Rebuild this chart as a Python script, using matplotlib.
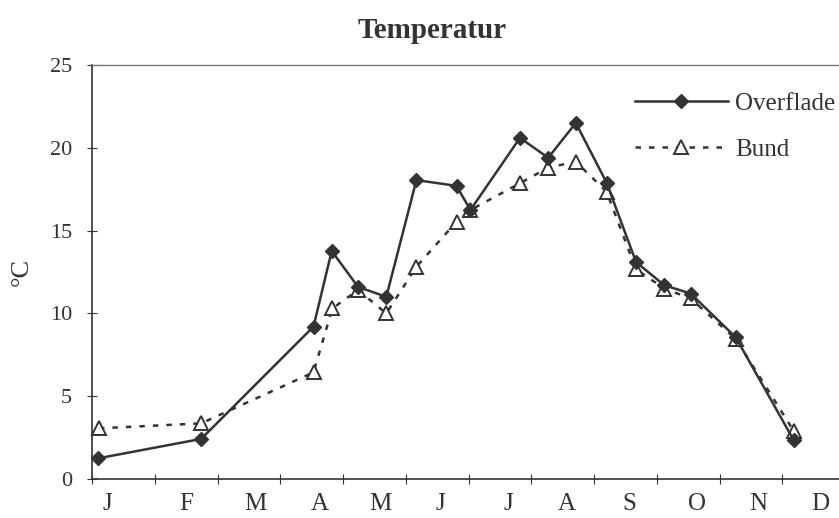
import numpy as np
import matplotlib.pyplot as plt

# x in months (0 = start of January)
x_over = [0.10, 1.74, 3.53, 3.82, 4.24, 4.69, 5.17, 5.81, 6.03, 6.82, 7.27, 7.71,
          8.20, 8.67, 9.12, 9.54, 10.26, 11.18]
overflade = [1.25, 2.42, 9.2, 13.77, 11.6, 11.0, 18.05, 17.7, 16.24, 20.6, 19.4, 21.5,
             17.9, 13.1, 11.7, 11.2, 8.55, 2.36]
x_bund = [0.11, 1.74, 3.53, 3.83, 4.24, 4.69, 5.17, 5.81, 6.03, 6.82, 7.27, 7.71,
          8.20, 8.67, 9.12, 9.54, 10.26, 11.18]
bund = [3.06, 3.36, 6.44, 10.3, 11.41, 10.0, 12.82, 15.54, 16.24, 17.86, 18.8, 19.16,
        17.35, 12.66, 11.5, 10.9, 8.45, 2.92]

months = ['J', 'F', 'M', 'A', 'M', 'J', 'J', 'A', 'S', 'O', 'N', 'D']
month_pos = [0.25, 1.5, 2.61, 3.63, 4.59, 5.55, 6.63, 7.57, 8.56, 9.64, 10.61, 11.6]

plt.rcParams['font.family'] = ['Liberation Serif', 'DejaVu Serif']
ink = '#333333'

fig = plt.figure(figsize=(8.39, 5.18), dpi=100)
ax = fig.add_axes([92 / 839, 1 - 479 / 518, 753 / 839, 414 / 518])

ax.plot(x_over, overflade, color=ink, lw=1.8, marker='D', ms=7.5,
        mfc=ink, mec=ink, label='Overflade', clip_on=False, zorder=3)
ax.plot(x_bund, bund, color=ink, lw=1.8, linestyle=(0, (2.2, 3.2)), marker='^', ms=10,
        mfc='white', mec=ink, mew=1.4, label='Bund', clip_on=False, zorder=2)

ax.set_xlim(0, 12)
ax.set_ylim(0, 25)
ax.set_yticks(np.arange(0, 26, 5))
ax.set_xticks(np.arange(0, 13, 1))
ax.set_xticklabels([])
ax.set_xticks(month_pos, minor=True)
ax.set_xticklabels(months, minor=True)
ax.tick_params(axis='x', which='major', direction='inout', length=7, width=0.8, colors=ink)
ax.tick_params(axis='x', which='minor', length=0, pad=10, labelsize=18, labelcolor=ink)
ax.tick_params(axis='y', direction='inout', length=7, width=0.8, pad=11,
               labelsize=16, colors=ink)

for s in ['left', 'bottom']:
    ax.spines[s].set_color(ink)
    ax.spines[s].set_linewidth(1.2)
ax.spines['top'].set_color('#777777')
ax.spines['top'].set_linewidth(1.0)
ax.spines['right'].set_visible(False)

ax.set_ylabel('°C', fontsize=19, color=ink, labelpad=12)
fig.text(0.515, 0.942, 'Temperatur', ha='center', va='center', fontsize=21,
         fontweight='bold', color=ink)

leg = ax.legend(loc='upper left', bbox_to_anchor=(625 / 839, 1 - 82 / 518),
                bbox_transform=fig.transFigure, frameon=False, fontsize=18,
                numpoints=1, handlelength=3.7, handletextpad=0.3, labelspacing=0.95,
                borderaxespad=0)
for t in leg.get_texts():
    t.set_color(ink)

fig.savefig('out.png', dpi=100)
